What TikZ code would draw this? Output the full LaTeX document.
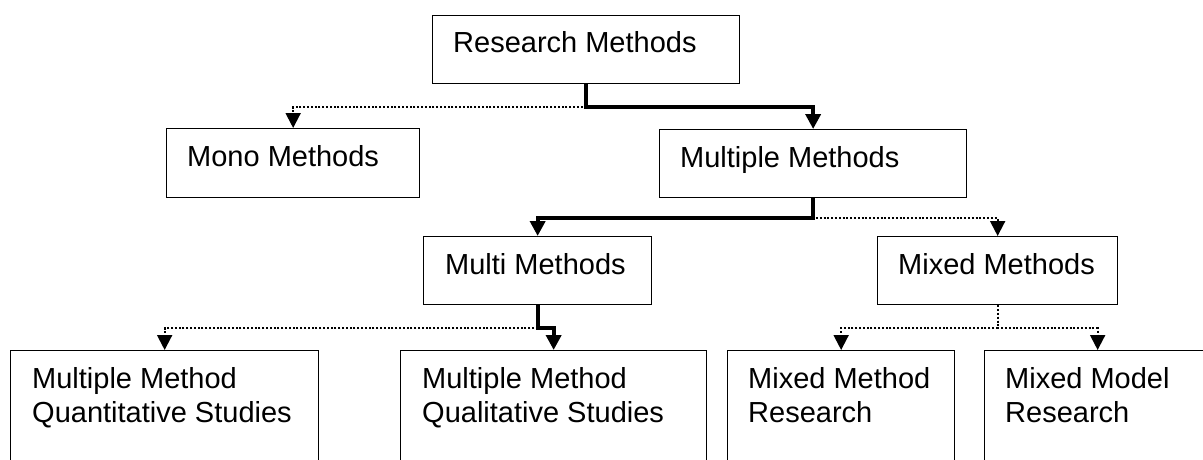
\documentclass[tikz,border=0pt]{standalone}
\usepackage{fontspec}
\setmainfont{Liberation Sans}
\usetikzlibrary{arrows.meta}

\tikzset{
  box/.style={draw, line width=1.3pt, anchor=north west, inner sep=0pt},
  lbl/.style={anchor=base west, inner sep=0pt, align=left,
    font=\fontsize{29}{34}\selectfont},
  strong/.style={line width=4pt, line join=miter,
    -{Triangle[width=15pt,length=15pt]}},
  weak/.style={line width=2pt, dash pattern=on 2pt off 1.8pt,
    -{Triangle[width=15pt,length=15pt]}},
}

\begin{document}
\begin{tikzpicture}[x=1pt, y=-1pt]
\useasboundingbox (0,0) rectangle (1203,460);

% boxes
\node[box, minimum width=307pt, minimum height=68pt] (rm)    at (432,15)  {};
\node[box, minimum width=253pt, minimum height=69pt] (mono)  at (166,128) {};
\node[box, minimum width=307pt, minimum height=68pt] (mult)  at (659,129) {};
\node[box, minimum width=228pt, minimum height=68pt] (multi) at (423,236) {};
\node[box, minimum width=240pt, minimum height=68pt] (mixed) at (877,236) {};
\node[box, minimum width=308pt, minimum height=140pt] (quan) at (10,350)  {};
\node[box, minimum width=306pt, minimum height=140pt] (qual) at (400,350) {};
\node[box, minimum width=227pt, minimum height=140pt] (mmr)  at (727,350) {};
\node[box, minimum width=226pt, minimum height=140pt] (mdr)  at (984,350) {};

% labels (two-line labels are anchored on their last baseline)
\node[lbl] (rm-t)    at (453,53)  {Research Methods};
\node[lbl] (mono-t)  at (187,166) {Mono Methods};
\node[lbl] (mult-t)  at (680,167) {Multiple Methods};
\node[lbl] (multi-t) at (445,274) {Multi Methods};
\node[lbl] (mixed-t) at (898,274) {Mixed Methods};
\node[lbl] (quan-t)  at (32,422)  {Multiple Method\\Quantitative Studies};
\node[lbl] (qual-t)  at (422,422) {Multiple Method\\Qualitative Studies};
\node[lbl] (mmr-t)   at (748,422) {Mixed Method\\Research};
\node[lbl] (mdr-t)   at (1005,422) {Mixed Model\\Research};

% dotted branches
\draw[weak] (rm.south)    -- ++(0,23) -| (mono.north);
\draw[weak] (mult.south)  -- ++(0,20) -| (mixed.north);
\draw[weak] (multi.south) -- ++(0,23) -| (quan.north);
\draw[weak] (mixed.south) -- ++(0,23) -| (mmr.north);
\draw[weak] (mixed.south) -- ++(0,23) -| (mdr.north);

% bold branches
\draw[strong] (rm.south)    -- ++(0,23) -| (mult.north);
\draw[strong] (mult.south)  -- ++(0,20) -| (multi.north);
\draw[strong] (multi.south) -- ++(0,23) -| (qual.north);
\end{tikzpicture}
\end{document}
